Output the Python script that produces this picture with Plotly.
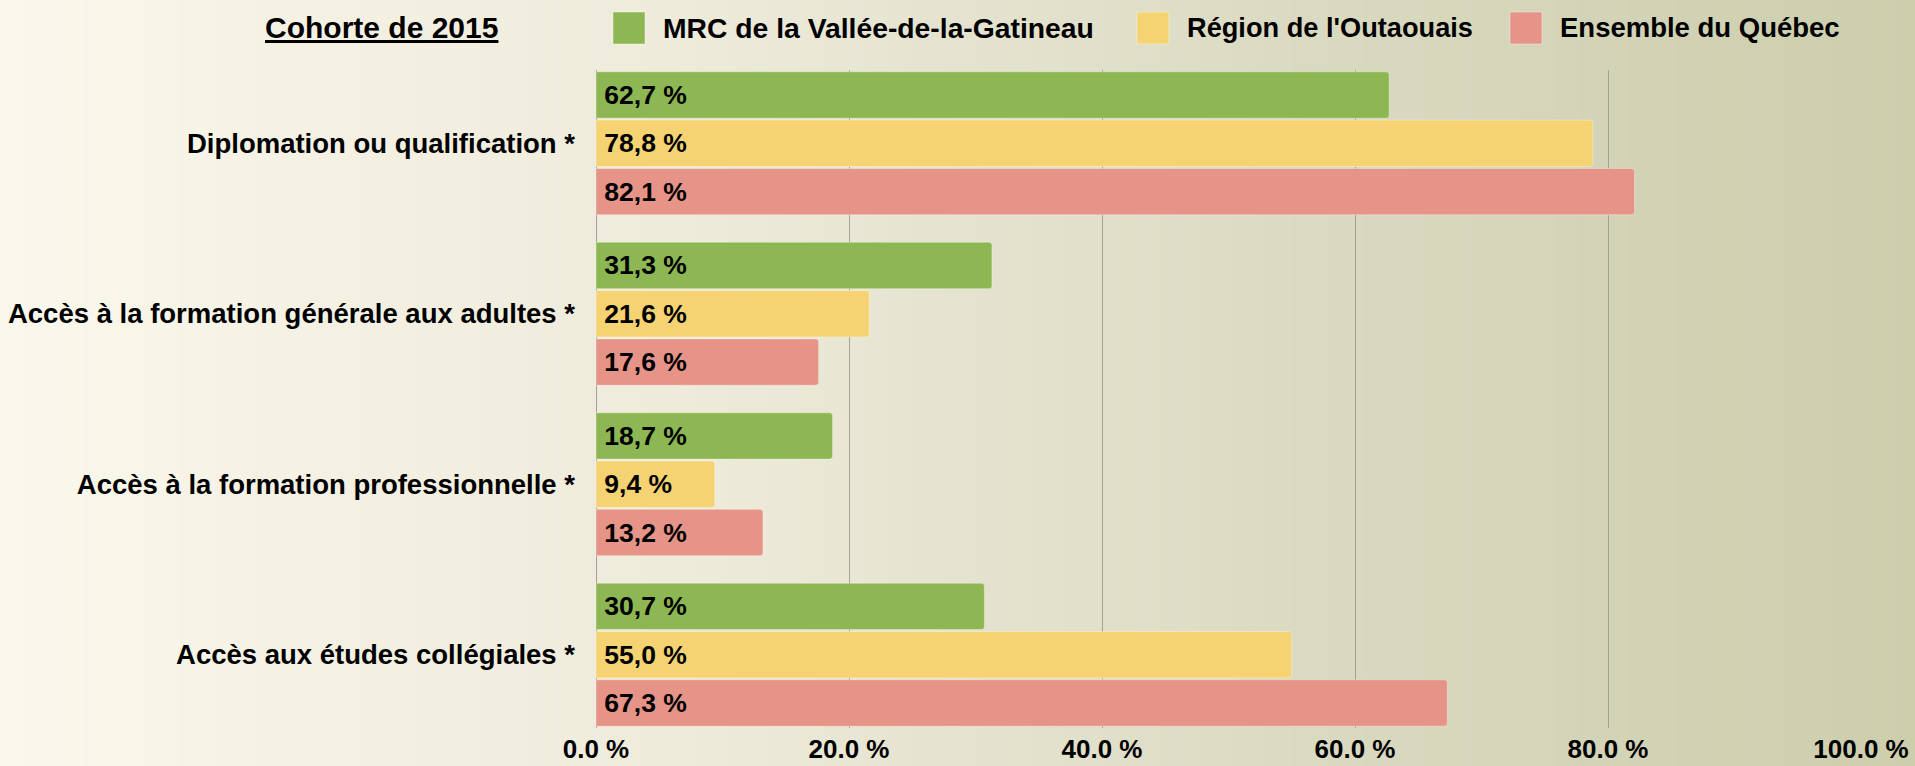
import plotly.graph_objects as go

W, H = 1915, 766

categories = [
    "Diplomation ou qualification *",
    "Accès à la formation générale aux adultes *",
    "Accès à la formation professionnelle *",
    "Accès aux études collégiales *",
]
series_names = ["MRC de la Vallée-de-la-Gatineau", "Région de l'Outaouais", "Ensemble du Québec"]
mrc_values = [62.7, 31.3, 18.7, 30.7]
region_values = [78.8, 21.6, 9.4, 55.0]
quebec_values = [82.1, 17.6, 13.2, 67.3]
series_colors = ["#8db752", "#f5d372", "#e59487"]
tick_values = [0, 20, 40, 60, 80, 100]
tick_labels = ["0.0 %", "20.0 %", "40.0 %", "60.0 %", "80.0 %", "100.0 %"]
title_text = "Cohorte de 2015"

FONT = "Liberation Sans"
NARROW = "Liberation Sans Narrow, Liberation Sans"

fig = go.Figure()
for name, vals, col in zip(series_names, [mrc_values, region_values, quebec_values], series_colors):
    fig.add_trace(go.Bar(
        y=categories, x=vals, name=name, orientation="h",
        marker=dict(color=col, line=dict(color="rgba(255,255,255,0.35)", width=1)),
        text=["\u2009" + f"{v:.1f}".replace(".", ",") + " %" for v in vals],
        textposition="inside", insidetextanchor="start",
        textfont=dict(family=FONT, size=26.5, color="black", weight="bold"),
        constraintext="none", cliponaxis=False, showlegend=False,
        hoverinfo="skip",
    ))

# background gradient (strips)
def lerp(c1, c2, t):
    return tuple(round(a + (b - a) * t) for a, b in zip(c1, c2))

stops = [(0.0, (250, 247, 236)), (0.35, (238, 235, 219)), (0.7, (217, 217, 192)), (1.0, (204, 206, 172))]
def grad(t):
    for (t0, c0), (t1, c1) in zip(stops[:-1], stops[1:]):
        if t <= t1:
            return lerp(c0, c1, (t - t0) / (t1 - t0))
    return stops[-1][1]

shapes = []
N = 160
for i in range(N):
    c = grad((i + 0.5) / N)
    shapes.append(dict(type="rect", xref="paper", yref="paper", x0=i / N, x1=(i + 1) / N + 0.001,
                       y0=0, y1=1, fillcolor=f"rgb{c}", line=dict(width=0), layer="below"))

# legend (manual)
sw_x = [613, 1137, 1510]
tx_x = [661, 1185, 1558]
leg_sizes = [28.3, 27.2, 27.5]
annotations = []
for name, col, sx, tx, fs in zip(series_names, series_colors, sw_x, tx_x, leg_sizes):
    shapes.append(dict(type="rect", xref="paper", yref="paper", x0=sx / W, x1=(sx + 32) / W,
                       y0=1 - 44 / H, y1=1 - 12 / H, fillcolor=col,
                       line=dict(color="rgba(255,255,255,0.4)", width=1), layer="above"))
    annotations.append(dict(text=f"<b>{name}</b>", xref="paper", yref="paper", x=tx / W, y=1 - 28 / H,
                            xanchor="left", yanchor="middle", showarrow=False,
                            font=dict(family=FONT, size=fs, color="black")))
annotations.append(dict(text=f"<b><u>{title_text}</u></b>", xref="paper", yref="paper", x=381 / W, y=1 - 28 / H,
                        xanchor="center", yanchor="middle", showarrow=False,
                        font=dict(family=FONT, size=30, color="black")))

fig.update_layout(
    width=W, height=H,
    margin=dict(l=0, r=0, t=0, b=0, autoexpand=False),
    paper_bgcolor="rgba(0,0,0,0)", plot_bgcolor="rgba(0,0,0,0)",
    barmode="group", bargap=0.15, bargroupgap=0.04, barcornerradius=3,
    shapes=shapes, annotations=annotations,
    xaxis=dict(domain=[596 / W, 1861 / W], range=[0, 100], tickvals=tick_values, ticktext=tick_labels,
               showgrid=True, gridcolor="#a3a393", gridwidth=1,
               zeroline=True, zerolinecolor="#a3a393", zerolinewidth=1,
               tickfont=dict(family=NARROW, size=26, color="black", weight="bold"),
               ticks="", ticklabelstandoff=3, automargin=False, fixedrange=True),
    yaxis=dict(domain=[1 - 728 / H, 1 - 70 / H], range=[3.43, -0.43], showgrid=False,
               tickfont=dict(family=FONT, size=27.5, color="black", weight="bold"),
               ticks="", ticklabelstandoff=20, automargin=False, fixedrange=True),
    font=dict(family=FONT, color="black"),
)

fig.write_html("out.html", config={"displayModeBar": False},
               post_script="document.body.style.margin='0';document.body.style.overflow='hidden';")
